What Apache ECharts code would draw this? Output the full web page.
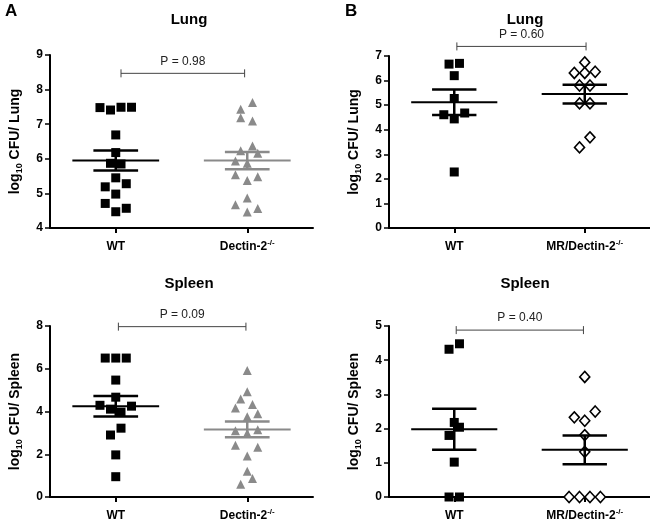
<!DOCTYPE html>
<html>
<head>
<meta charset="utf-8">
<script src="https://cdn.jsdelivr.net/npm/echarts@6/dist/echarts.min.js"></script>
<style>
  html, body { margin: 0; padding: 0; background: #fff; }
  #chart { width: 650px; height: 522px; }
</style>
</head>
<body>
<div id="chart"></div>
<script>
// x = jittered group position (1 = WT, 2 = knockout), y = log10 CFU
const lungA_WT = [[0.88, 7.48], [0.96, 7.41], [1.04, 7.49], [1.12, 7.49], [1.0, 6.69], [1.0, 6.18], [0.96, 5.87], [1.04, 5.85],
  [1.0, 5.45], [0.92, 5.19], [1.08, 5.28], [1.0, 4.98], [0.92, 4.71], [1.08, 4.57], [1.0, 4.47]];
const lungA_KO = [[2.04, 7.63], [1.95, 7.43], [1.95, 7.19], [2.04, 7.09], [2.04, 6.37], [1.95, 6.23], [2.08, 6.16], [1.91, 5.94],
  [2.0, 5.87], [1.91, 5.54], [2.0, 5.37], [2.08, 5.48], [2.0, 4.87], [1.91, 4.67], [2.0, 4.46], [2.08, 4.56]];
const lungB_WT = [[0.96, 6.67], [1.04, 6.70], [1.0, 6.20], [1.0, 5.27], [0.92, 4.61], [1.0, 4.44], [1.08, 4.68], [1.0, 2.28]];
const lungB_KO = [[2.0, 6.74], [1.92, 6.31], [2.0, 6.31], [2.08, 6.36], [1.96, 5.80], [2.04, 5.80], [1.96, 5.07], [2.04, 5.07],
  [2.04, 3.69], [1.96, 3.28]];
const spleenA_WT = [[0.92, 6.5], [1.0, 6.5], [1.08, 6.5], [1.0, 5.47], [1.0, 4.67], [0.88, 4.29], [0.96, 4.11], [1.04, 3.97],
  [1.12, 4.25], [1.04, 3.22], [0.96, 2.90], [1.0, 1.97], [1.0, 0.95]];
const spleenA_KO = [[2.0, 5.92], [2.0, 4.92], [1.95, 4.59], [2.04, 4.33], [1.91, 4.16], [2.08, 3.89], [2.0, 3.75], [1.91, 3.10],
  [2.0, 2.98], [2.08, 3.15], [1.91, 2.42], [2.08, 2.33], [2.0, 1.92], [2.0, 1.21], [2.04, 0.87], [1.95, 0.60]];
const spleenB_WT = [[0.96, 4.32], [1.04, 4.48], [1.0, 2.18], [1.04, 2.04], [0.96, 1.80], [1.0, 1.02], [0.96, 0], [1.04, 0]];
const spleenB_KO = [[2.0, 3.51], [2.08, 2.50], [1.92, 2.33], [2.0, 2.23], [2.0, 1.81], [2.0, 1.32], [1.88, 0], [1.96, 0],
  [2.04, 0], [2.12, 0]];

// mean and SEM per group [WT, KO]
const lungA_mean = [5.95, 5.95], lungA_sem = [0.29, 0.25];
const lungB_mean = [5.12, 5.45], lungB_sem = [0.52, 0.38];
const spleenA_mean = [4.25, 3.16], spleenA_sem = [0.48, 0.37];
const spleenB_mean = [1.98, 1.38], spleenB_sem = [0.60, 0.42];

// p-value brackets [x1, x2, y]
const brackets = [[1.04, 1.98, 8.47], [1.02, 2.01, 7.39], [1.02, 1.99, 7.97], [1.015, 1.99, 4.88]];
const pLabels = ['P = 0.98', 'P = 0.60', 'P = 0.09', 'P = 0.40'];

const panelTitles = ['Lung', 'Lung', 'Spleen', 'Spleen'];
const organs = ['Lung', 'Lung', 'Spleen', 'Spleen'];
const koNames = ['Dectin-2', 'MR/Dectin-2', 'Dectin-2', 'MR/Dectin-2'];
const yRanges = [[4, 9, 1], [0, 7, 1], [0, 8, 2], [0, 5, 1]];

const FONT = 'Liberation Sans, Arial, sans-serif';
const GRAY = '#8a8a8a';

const grids = [
  { left: 50, right: 337, top: 55, bottom: 294 },
  { left: 389, right: 0, top: 56, bottom: 294 },
  { left: 50, right: 337, top: 326, bottom: 24 },
  { left: 389, right: 0, top: 326, bottom: 24 }
];

const xAxes = grids.map((g, i) => ({
  gridIndex: i,
  type: 'value',
  min: 0.5,
  max: 2.5,
  splitLine: { show: false },
  axisLine: { show: true, onZero: false, lineStyle: { color: '#000', width: 2 } },
  axisTick: { show: true, customValues: [1, 2], length: 5, lineStyle: { color: '#000', width: 2 } },
  axisLabel: {
    customValues: [1, 2],
    margin: 11,
    formatter: v => (v === 1 ? '{b|WT}' : '{b|' + koNames[i] + '}{sup|-/-}'),
    rich: {
      b: { fontFamily: FONT, fontWeight: 'bold', fontSize: 12, color: '#000', lineHeight: 16 },
      sup: { fontFamily: FONT, fontWeight: 'bold', fontSize: 8, color: '#000', lineHeight: 9, verticalAlign: 'top' }
    }
  }
}));

const yAxes = grids.map((g, i) => ({
  gridIndex: i,
  type: 'value',
  min: yRanges[i][0],
  max: yRanges[i][1],
  interval: yRanges[i][2],
  splitLine: { show: false },
  axisLine: { show: true, onZero: false, lineStyle: { color: '#000', width: 2 } },
  axisTick: { show: true, length: 5, lineStyle: { color: '#000', width: 1.5 } },
  axisLabel: { fontFamily: FONT, fontWeight: 'bold', fontSize: 12, color: '#000', margin: 7 },
  name: '{n|log}{s|10}{n| CFU/ ' + organs[i] + '}',
  nameLocation: 'middle',
  nameRotate: 90,
  nameGap: 26,
  nameTextStyle: {
    rich: {
      n: { fontFamily: FONT, fontWeight: 'bold', fontSize: 14, color: '#000', lineHeight: 18 },
      s: { fontFamily: FONT, fontWeight: 'bold', fontSize: 9, color: '#000', lineHeight: 10, verticalAlign: 'bottom' }
    }
  }
}));

function meanSem(panel, means, sems, colors) {
  return {
    type: 'custom',
    xAxisIndex: panel,
    yAxisIndex: panel,
    z: 5,
    clip: false,
    data: means.map((m, k) => ({ value: [k + 1, m, sems[k]], itemStyle: { color: colors[k] } })),
    renderItem: (params, api) => {
      const x = api.value(0), m = api.value(1), s = api.value(2);
      const c = api.visual('color');
      const a = api.coord([x - 0.33, m]), b = api.coord([x + 0.33, m]);
      const t0 = api.coord([x - 0.17, m + s]), t1 = api.coord([x + 0.17, m + s]);
      const b0 = api.coord([x - 0.17, m - s]), b1 = api.coord([x + 0.17, m - s]);
      const vt = api.coord([x, m + s]), vb = api.coord([x, m - s]);
      const ln = (p, q, w) => ({ type: 'line', shape: { x1: p[0], y1: p[1], x2: q[0], y2: q[1] }, style: { stroke: c, lineWidth: w } });
      return { type: 'group', children: [ln(a, b, 2), ln(t0, t1, 2.5), ln(b0, b1, 2.5), ln(vt, vb, 2.5)] };
    }
  };
}

function bracket(panel) {
  return {
    type: 'custom',
    xAxisIndex: panel,
    yAxisIndex: panel,
    z: 6,
    clip: false,
    data: [brackets[panel]],
    renderItem: (params, api) => {
      const p = api.coord([api.value(0), api.value(2)]);
      const q = api.coord([api.value(1), api.value(2)]);
      const st = { stroke: '#444', lineWidth: 1 };
      return {
        type: 'group', children: [
          { type: 'line', shape: { x1: p[0], y1: p[1], x2: q[0], y2: q[1] }, style: st },
          { type: 'line', shape: { x1: p[0], y1: p[1] - 4, x2: p[0], y2: p[1] + 4 }, style: st },
          { type: 'line', shape: { x1: q[0], y1: q[1] - 4, x2: q[0], y2: q[1] + 4 }, style: st },
          {
            type: 'text',
            style: {
              x: (p[0] + q[0]) / 2, y: p[1] - 6, text: pLabels[panel],
              align: 'center', verticalAlign: 'bottom',
              font: '12px ' + FONT, fill: '#222'
            }
          }
        ]
      };
    }
  };
}

const square = { symbol: 'rect', symbolSize: 9, itemStyle: { color: '#000', opacity: 1 } };
const tri = { symbol: 'triangle', symbolSize: 9, itemStyle: { color: GRAY, opacity: 1 } };
const diamond = { symbol: 'diamond', symbolSize: [10, 11], itemStyle: { color: '#fff', borderColor: '#000', borderWidth: 1.6, opacity: 1 } };

const scatter = (panel, data, style) => Object.assign({
  type: 'scatter', xAxisIndex: panel, yAxisIndex: panel, data: data, clip: false, z: 3
}, style);

const series = [
  scatter(0, lungA_WT, square), scatter(0, lungA_KO, tri),
  scatter(1, lungB_WT, square), scatter(1, lungB_KO, diamond),
  scatter(2, spleenA_WT, square), scatter(2, spleenA_KO, tri),
  scatter(3, spleenB_WT, square), scatter(3, spleenB_KO, diamond),
  meanSem(0, lungA_mean, lungA_sem, ['#000', GRAY]),
  meanSem(1, lungB_mean, lungB_sem, ['#000', '#000']),
  meanSem(2, spleenA_mean, spleenA_sem, ['#000', GRAY]),
  meanSem(3, spleenB_mean, spleenB_sem, ['#000', '#000']),
  bracket(0), bracket(1), bracket(2), bracket(3)
];

const titlePos = [[184, 7], [520, 7], [184, 271], [520, 271]];
const titles = panelTitles.map((t, i) => ({
  text: t, left: titlePos[i][0], top: titlePos[i][1], textAlign: 'center',
  textStyle: { fontFamily: FONT, fontWeight: 'bold', fontSize: 15, color: '#000' }
}));
titles.push(
  { text: 'A', left: 0, top: -2, textStyle: { fontFamily: FONT, fontWeight: 'bold', fontSize: 17, color: '#000' } },
  { text: 'B', left: 340, top: -2, textStyle: { fontFamily: FONT, fontWeight: 'bold', fontSize: 17, color: '#000' } }
);

const chart = echarts.init(document.getElementById('chart'));
chart.setOption({
  animation: false,
  backgroundColor: '#fff',
  title: titles,
  grid: grids,
  xAxis: xAxes,
  yAxis: yAxes,
  series: series
});
</script>
</body>
</html>
